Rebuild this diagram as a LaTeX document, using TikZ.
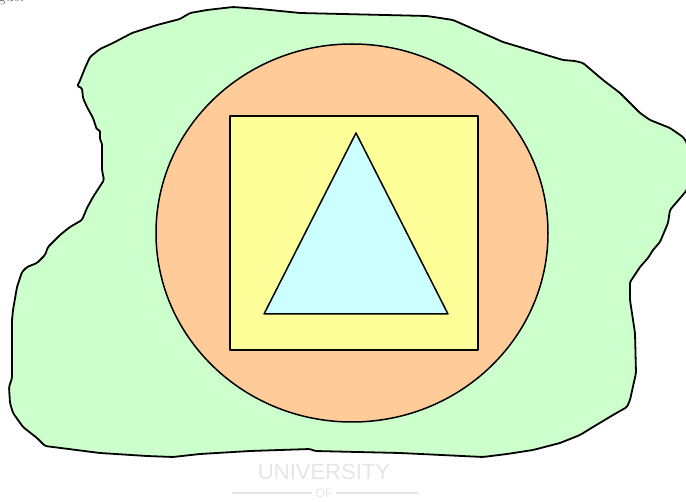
\documentclass[tikz,border=0pt]{standalone}
\usepackage{fontspec}
\usetikzlibrary{shapes.geometric}
\newfontfamily\wmfont{Liberation Sans}
\begin{document}
\begin{tikzpicture}[x=1pt,y=-1pt,
  outline/.style={draw=black,line join=round},
  blobstyle/.style={outline,fill=blobgreen,line width=1.8pt,rounded corners=1.5pt},
  ellstyle/.style={outline,fill=ellorange,line width=1.5pt},
  rectstyle/.style={outline,fill=rectyellow,line width=1.8pt},
  tristyle/.style={outline,fill=tricyan,line width=1.5pt},
  wmstyle/.style={text=black!10,inner sep=0pt}]
\definecolor{blobgreen}{HTML}{CCFFCC}
\definecolor{ellorange}{HTML}{FFCC99}
\definecolor{rectyellow}{HTML}{FFFF99}
\definecolor{tricyan}{HTML}{CCFFFF}
\useasboundingbox (0,0) rectangle (686,502);
% blob
\draw[blobstyle] (77,86) -- (79,83) -- (85,68) -- (90,57) -- (100,49) -- (113,43) -- (132,33) -- (157,25) -- (180,19) -- (190,13) -- (207,10) -- (233,7) -- (260,9) -- (300,13) -- (427,16) -- (453,20) -- (503,42) -- (563,60) -- (575,61) -- (583,63) -- (603,80) -- (620,93) -- (640,113) -- (650,120) -- (670,128) -- (683,137) -- (687,143) -- (687,190) -- (670,210) -- (668,223) -- (660,242) -- (653,250) -- (648,258) -- (640,267) -- (630,282) -- (630,300) -- (635,333) -- (636,373) -- (630,400) -- (627,407) -- (613,415) -- (593,427) -- (580,435) -- (560,443) -- (533,450) -- (507,454) -- (483,457) -- (400,453) -- (315,451) -- (310,449) -- (250,451) -- (200,454) -- (173,457) -- (147,456) -- (100,453) -- (45,446) -- (37,438) -- (23,427) -- (13,413) -- (10,403) -- (9,387) -- (12,378) -- (12,320) -- (13,310) -- (17,287) -- (22,272) -- (27,267) -- (37,263) -- (45,255) -- (48,247) -- (60,235) -- (70,227) -- (82,220) -- (87,208) -- (93,197) -- (104,180) -- (102,170) -- (102,143) -- (100,140) -- (100,130) -- (97,130) -- (93,118) -- (87,107) -- (83,98) -- (82,88) -- cycle;
% ellipse
\node[ellstyle,ellipse,minimum width=392pt,minimum height=378pt,inner sep=0pt] (ell) at (352,233) {};
% rectangle
\node[rectstyle,rectangle,minimum width=248pt,minimum height=234pt,inner sep=0pt] (box) at (354,233) {};
% triangle
\coordinate (ta) at (356,133);
\coordinate (tl) at (264,314);
\coordinate (tr) at (448,314);
\draw[tristyle] (ta) -- (tl) -- (tr) -- cycle;
% cut-off text at top left
\node[anchor=base west,inner sep=0pt,font=\fontsize{16}{18}\selectfont,text=black!70] (cut) at (-2,2) {gue.};
% watermark
\node[wmstyle,font=\wmfont\fontsize{22}{22}\selectfont] (wm1) at (324,472) {UNIVERSITY};
\node[wmstyle,font=\wmfont\fontsize{12}{12}\selectfont] (wm2) at (324,493) {OF};
\coordinate (l1a) at (232,493);
\coordinate (l2b) at (418,493);
\draw[black!10,line width=1.2pt] (l1a) -- ([xshift=-3pt]wm2.west);
\draw[black!10,line width=1.2pt] ([xshift=3pt]wm2.east) -- (l2b);
\end{tikzpicture}
\end{document}
